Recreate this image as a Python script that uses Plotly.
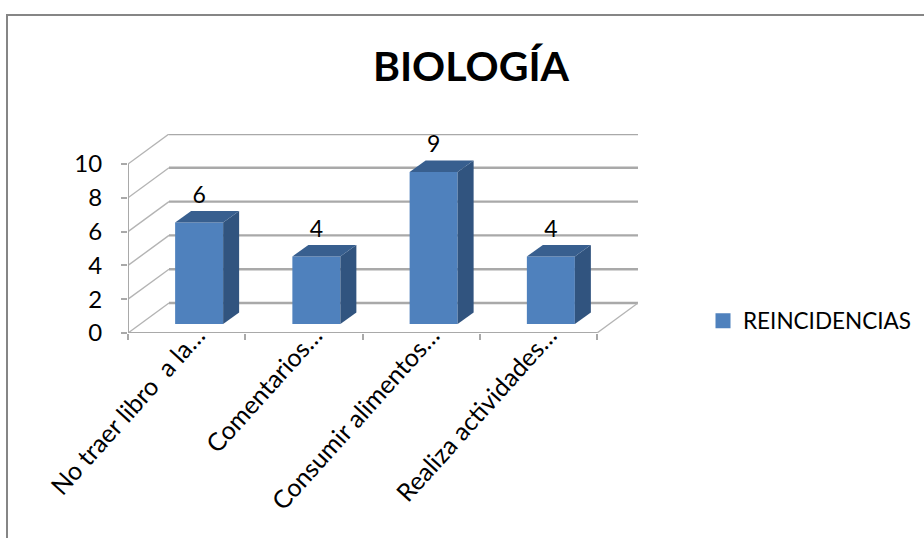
import plotly.graph_objects as go

title = "BIOLOGÍA"
series_name = "REINCIDENCIAS"
categories = ["No traer libro  a la…", "Comentarios…", "Consumir alimentos…", "Realiza actividades…"]
values = [6, 4, 9, 4]
y_ticks = [0, 2, 4, 6, 8, 10]

FONT = "Lato, 'Open Sans', sans-serif"
TEXT = "#000000"
GRID = "#A9A9A9"
FRONT, SIDE, TOP = "#4F81BD", "#31547F", "#385F8F"

# oblique projection, in axis units
X_PX, Y_PX = 117.25, 16.9
WALL_DX, WALL_DY = 41 / X_PX, 30 / Y_PX
BAR_DX, BAR_DY = 12.5 / X_PX, 9 / Y_PX
DEPTH_DX, DEPTH_DY = 16 / X_PX, 11.5 / Y_PX
BAR_W = 48 / X_PX
n = len(categories)
ymax = y_ticks[-1]

fig = go.Figure()


def line(xs, ys, color=GRID, width=1.5):
    fig.add_trace(go.Scatter(x=xs, y=ys, mode="lines", line=dict(color=color, width=width),
                             showlegend=False, hoverinfo="skip"))


# walls
for t in y_ticks:
    line([WALL_DX, n + WALL_DX], [t + WALL_DY, t + WALL_DY], width=2.4)
    line([0, WALL_DX], [t, t + WALL_DY], color="#B4B4B4", width=1.4)
line([n, n + WALL_DX], [0, WALL_DY], color="#B4B4B4", width=1.4)
line([0, n], [0, 0], width=2)
line([0, 0], [0, ymax], width=2)

# bars, on an overlaid subplot so they cover the wall lines
centers = [i + 0.5 + BAR_DX for i in range(n)]
fig.add_trace(go.Bar(x=centers, y=values, base=[BAR_DY] * n, width=BAR_W, name=series_name,
                     marker=dict(color=FRONT, line=dict(width=0)), hoverinfo="skip",
                     showlegend=False, xaxis="x2", yaxis="y2"))
for c, v in zip(centers, values):
    l, r = c - BAR_W / 2, c + BAR_W / 2
    b, t = BAR_DY, BAR_DY + v
    fig.add_trace(go.Scatter(x=[r, r + DEPTH_DX, r + DEPTH_DX, r, r], y=[b, b + DEPTH_DY, t + DEPTH_DY, t, b],
                             mode="lines", fill="toself", fillcolor=SIDE, line=dict(width=0),
                             showlegend=False, hoverinfo="skip", xaxis="x2", yaxis="y2"))
    fig.add_trace(go.Scatter(x=[l, l + DEPTH_DX, r + DEPTH_DX, r, l], y=[t, t + DEPTH_DY, t + DEPTH_DY, t, t],
                             mode="lines", fill="toself", fillcolor=TOP, line=dict(width=0),
                             showlegend=False, hoverinfo="skip", xaxis="x2", yaxis="y2"))

# legend key
fig.add_trace(go.Scatter(x=[None], y=[None], mode="markers", name=series_name,
                         marker=dict(symbol="square", size=15, color=FRONT), xaxis="x2", yaxis="y2"))

# data labels
fig.add_trace(go.Scatter(x=centers, y=[v + BAR_DY + 1.5 for v in values], mode="text",
                         text=[str(v) for v in values], textposition="middle center",
                         textfont=dict(family=FONT, size=23, color=TEXT),
                         showlegend=False, hoverinfo="skip", xaxis="x2", yaxis="y2"))

W, H = 924, 538
x0, x1 = 128, 128 + (n + WALL_DX) * X_PX
y_bottom, y_top = 333, 333 - (ymax + WALL_DY) * Y_PX
xdom = [x0 / W, x1 / W]
ydom = [1 - y_bottom / H, 1 - y_top / H]
xr = [0, n + WALL_DX]
yr = [0, ymax + WALL_DY]

fig.update_layout(
    width=W, height=H, margin=dict(l=0, r=0, t=0, b=0, autoexpand=False),
    paper_bgcolor="white", plot_bgcolor="white",
    title=dict(text=f"<b>{title}</b>", x=471 / W, xanchor="center", xref="container",
               y=1 - 67 / H, yanchor="middle", yref="container",
               font=dict(family=FONT, size=41, color=TEXT)),
    legend=dict(xref="container", yref="container", x=703 / W, y=1 - 321 / H, xanchor="left", yanchor="middle",
                itemsizing="trace", font=dict(family=FONT, size=22.5, color=TEXT), bgcolor="rgba(0,0,0,0)"),
    showlegend=True,
    xaxis=dict(domain=xdom, range=xr, showgrid=False, zeroline=False,
               showline=False, tickmode="array", tickvals=[i + 0.59 for i in range(n)], ticktext=categories,
               tickangle=-48, ticks="", tickfont=dict(family=FONT, size=25, color=TEXT), automargin=False,
               ticklabelstandoff=-18,
               minor=dict(tickmode="array", tickvals=list(range(n + 1)), ticks="outside", ticklen=6,
                          tickcolor=GRID, tickwidth=1.5, showgrid=False)),
    yaxis=dict(domain=ydom, range=yr, showgrid=False, zeroline=False, automargin=False,
               showline=False, tickmode="array", tickvals=y_ticks, ticks="outside", ticklen=6,
               ticklabelstandoff=14,
               tickcolor=GRID, tickwidth=1.5, tickfont=dict(family=FONT, size=24, color=TEXT)),
    xaxis2=dict(domain=xdom, range=xr, overlaying="x", anchor="y2", visible=False),
    yaxis2=dict(domain=ydom, range=yr, overlaying="y", anchor="x2", visible=False),
    shapes=[
        dict(type="line", xref="paper", yref="paper", x0=6 / W, x1=1, y0=1 - 15 / H, y1=1 - 15 / H,
             line=dict(color="#868686", width=2)),
        dict(type="line", xref="paper", yref="paper", x0=7 / W, x1=7 / W, y0=0, y1=1 - 15 / H,
             line=dict(color="#868686", width=2)),
    ],
)

fig.write_html("out.html", config={"displayModeBar": False},
               post_script="document.body.style.margin='0';document.body.style.overflow='hidden';")
